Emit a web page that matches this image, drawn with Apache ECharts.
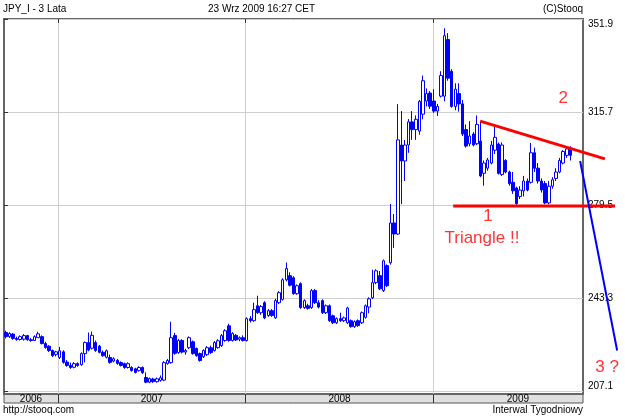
<!DOCTYPE html>
<html>
<head>
<meta charset="utf-8">
<script src="https://cdn.jsdelivr.net/npm/echarts@6/dist/echarts.min.js"></script>
<style>
  html, body { margin: 0; padding: 0; background: #fff; }
  #chart { width: 625px; height: 417px; }
</style>
</head>
<body>
<div id="chart"></div>
<script>
// weekly candles JPY_I, 3 years, weeks starting 2006-09-18
const opens = [
  230.1, 228.5, 229.5, 227.8, 227.4, 227.5, 228.9, 227.3, 227.0, 228.1,
  228.5, 225.8, 224.8, 223.1, 221.5, 220.4, 222.6, 218.6, 217.3, 216.6,
  218.0, 217.6, 221.9, 226.2, 224.0, 226.2, 224.8, 222.4, 220.5, 220.4,
  219.0, 219.3, 218.4, 218.0, 216.5, 216.5, 216.0, 215.3, 216.5, 212.6,
  210.8, 212.0, 211.0, 211.5, 211.6, 218.0, 218.4, 228.9, 222.3, 227.0,
  222.5, 224.2, 226.5, 223.9, 221.9, 220.7, 221.5, 224.2, 223.1, 224.2,
  225.0, 227.0, 232.7, 227.0, 229.0, 227.5, 228.1, 227.0, 235.5, 234.7,
  240.5, 237.8, 241.7, 236.7, 238.6, 235.8, 241.7, 243.0, 250.6, 252.2,
  251.4, 245.2, 249.1, 239.8, 240.5, 239.8, 246.4, 241.7, 242.5, 237.8,
  240.5, 236.6, 233.9, 235.5, 234.7, 233.9, 234.7, 232.4, 234.7, 233.9,
  236.0, 240.0, 243.6, 249.5, 252.2, 246.4, 256.1, 257.2, 272.7, 268.4,
  303.0, 296.8, 303.0, 312.0, 309.0, 308.4, 315.0, 320.1, 323.2, 320.1,
  316.2, 322.0, 322.0, 344.0, 331.7, 318.0, 323.0, 319.0, 309.0, 303.5,
  307.3, 303.5, 304.5, 292.0, 294.0, 296.0, 301.0, 303.4, 291.5, 297.0,
  292.5, 288.5, 286.3, 283.0, 285.2, 289.0, 288.5, 300.0, 294.0, 289.0,
  288.0, 280.5, 287.0, 290.0, 292.5, 296.0, 299.0, 301.5
];
const closes = [
  228.5, 229.7, 227.8, 227.4, 228.5, 228.9, 227.3, 227.0, 228.5, 229.6,
  225.8, 224.3, 223.1, 221.1, 222.6, 223.0, 218.5, 217.3, 216.5, 218.0,
  217.3, 221.9, 226.2, 223.3, 229.0, 223.1, 222.4, 221.1, 223.0, 218.5,
  219.9, 218.1, 217.3, 216.5, 218.0, 215.3, 214.6, 216.5, 214.5, 210.8,
  212.2, 211.0, 212.1, 212.5, 218.4, 219.2, 228.1, 222.0, 227.0, 222.5,
  223.1, 228.1, 221.9, 221.1, 219.2, 223.1, 224.2, 222.3, 226.2, 226.9,
  228.9, 230.8, 227.0, 229.7, 227.2, 228.1, 227.0, 235.5, 234.7, 239.0,
  237.8, 240.2, 235.8, 238.6, 236.7, 242.5, 245.6, 250.6, 255.0, 248.5,
  245.2, 248.3, 239.8, 242.5, 239.5, 246.4, 241.7, 240.0, 237.8, 240.5,
  234.7, 233.9, 235.5, 234.7, 235.8, 239.6, 232.4, 234.3, 232.8, 237.8,
  240.5, 243.2, 249.5, 254.1, 247.1, 258.0, 248.3, 272.7, 268.4, 305.0,
  296.8, 303.0, 312.0, 309.0, 313.0, 320.0, 328.0, 323.0, 318.1, 316.2,
  318.0, 330.0, 345.5, 329.0, 318.0, 324.7, 319.0, 307.3, 302.6, 306.5,
  303.0, 311.0, 291.0, 296.0, 297.2, 303.0, 306.0, 292.0, 303.0, 292.5,
  288.0, 285.2, 280.2, 285.5, 289.0, 285.5, 300.0, 294.0, 289.0, 285.5,
  280.5, 287.0, 289.5, 292.5, 297.0, 300.5, 301.5, 299.0
];
const lows = [
  227.8, 228.0, 227.3, 226.9, 227.0, 227.0, 226.9, 226.5, 226.8, 228.0,
  225.5, 223.8, 222.5, 220.6, 220.8, 219.8, 218.0, 216.8, 216.0, 216.2,
  216.8, 217.2, 218.5, 222.8, 223.5, 222.6, 222.0, 220.7, 220.0, 218.0,
  218.5, 217.6, 216.9, 216.0, 216.1, 214.9, 214.2, 214.9, 214.0, 210.4,
  210.4, 210.5, 210.6, 211.0, 211.2, 217.6, 218.0, 221.5, 221.8, 222.0,
  221.5, 223.7, 221.5, 220.7, 218.8, 220.2, 221.0, 221.8, 222.7, 223.8,
  224.5, 226.5, 226.5, 226.6, 226.8, 226.7, 226.6, 226.6, 234.0, 234.3,
  237.4, 237.0, 235.3, 236.2, 236.2, 235.4, 241.2, 242.5, 250.0, 248.0,
  244.8, 244.8, 239.3, 239.3, 239.0, 239.3, 241.2, 239.5, 237.3, 237.3,
  234.2, 233.4, 233.4, 234.2, 234.2, 233.4, 232.0, 231.9, 232.3, 233.4,
  235.5, 237.6, 243.1, 248.9, 246.6, 245.9, 247.8, 256.5, 263.0, 268.0,
  280.0, 289.0, 300.0, 305.0, 305.0, 307.0, 313.0, 318.0, 317.0, 315.5,
  314.3, 321.5, 320.0, 328.0, 317.5, 316.5, 316.0, 306.5, 302.0, 302.5,
  302.5, 303.0, 290.5, 287.2, 293.0, 295.5, 299.5, 291.5, 291.0, 292.0,
  287.2, 284.0, 279.8, 282.0, 283.0, 285.0, 288.0, 292.5, 288.0, 284.5,
  280.0, 280.0, 286.0, 289.0, 292.0, 295.5, 298.0, 297.0
];
const highs = [
  230.8, 230.2, 229.9, 228.5, 229.0, 229.5, 229.2, 228.0, 229.0, 230.4,
  229.0, 226.5, 225.2, 223.5, 223.0, 224.5, 223.2, 219.4, 218.4, 218.6,
  218.5, 222.4, 226.6, 230.1, 230.5, 227.0, 225.3, 223.1, 223.5, 221.5,
  220.5, 219.8, 218.9, 218.4, 218.5, 217.0, 216.4, 217.0, 216.9, 214.6,
  212.6, 212.5, 212.6, 213.4, 219.0, 219.8, 234.3, 230.0, 227.6, 227.5,
  223.8, 228.6, 227.0, 224.3, 222.3, 223.6, 224.8, 225.0, 226.8, 227.5,
  229.5, 231.4, 233.5, 230.2, 229.5, 228.6, 229.0, 236.0, 236.5, 241.7,
  244.4, 240.8, 242.3, 239.2, 239.2, 243.2, 246.2, 251.2, 257.3, 253.5,
  252.0, 248.8, 249.6, 243.0, 241.3, 247.0, 247.0, 242.7, 243.0, 241.0,
  241.0, 237.1, 236.0, 237.8, 236.3, 240.1, 235.2, 234.8, 235.2, 238.3,
  241.0, 243.8, 254.5, 254.7, 254.0, 258.5, 256.6, 280.1, 276.2, 318.9,
  316.2, 305.0, 313.1, 316.2, 314.5, 320.5, 330.0, 325.0, 324.0, 324.7,
  319.0, 331.7, 348.4, 346.5, 332.5, 327.0, 327.0, 320.5, 311.0, 312.3,
  308.0, 314.5, 312.3, 297.0, 298.0, 304.6, 310.4, 304.0, 304.0, 297.5,
  293.0, 292.5, 286.8, 287.0, 291.0, 290.0, 303.8, 302.0, 296.0, 290.0,
  289.0, 289.0, 290.5, 294.0, 298.0, 301.0, 302.5, 302.5
];

// axis texts
const priceTicks = [207.1, 243.3, 279.5, 315.7, 351.9];
const yearNames = ['2006', '2007', '2008', '2009'];
const yearStarts = [15, 67.14, 119.43];          // in weeks from the first candle
const yearLabelPos = [7.5, 41.1, 93.3, 142.9];
const weekCount = 161;                            // plot spans 161 weekly slots

// hand-drawn annotations, [week, price]
const resistanceLine = [[132.4, 312.3], [167.1, 297.6]];
const supportLine = [[124.9, 279.3], [169.9, 279.3]];
const breakoutLine = [[160.2, 296.8], [170.5, 223.1]];
const noteLabels = [
  { name: '2', value: [155.5, 321.1] },
  { name: '1', value: [134.6, 275.4] },
  { name: 'Triangle !!', value: [132.9, 266.6] },
  { name: '3 ?', value: [167.7, 216.4] }
];

const weeks = [];
for (let i = 0; i < weekCount; i++) {
  const d = new Date(Date.UTC(2006, 8, 18) + i * 7 * 86400000);
  weeks.push(d.toISOString().slice(0, 10));
}
const candles = opens.map((o, i) => [o, closes[i], lows[i], highs[i]]);

const FONT = 'Liberation Sans';
const chart = echarts.init(document.getElementById('chart'));

const baseGraphic = [
  { type: 'rect', z: -10, shape: { x: 4, y: 394, width: 579, height: 9 },
    style: { fill: '#e0e0e0', stroke: '#555', lineWidth: 1 } },
  { type: 'text', left: 3, top: 4, style: { text: 'JPY_I - 3 Lata', fontSize: 10, fontFamily: FONT, fill: '#000' } },
  { type: 'text', left: 208, top: 4, style: { text: '23 Wrz 2009 16:27 CET', fontSize: 10, fontFamily: FONT, fill: '#000' } },
  { type: 'text', right: 42, top: 4, style: { text: '(C)Stooq', fontSize: 10, fontFamily: FONT, fill: '#000' } },
  { type: 'text', left: 3, top: 405, style: { text: 'http://stooq.com', fontSize: 10, fontFamily: FONT, fill: '#000' } },
  { type: 'text', right: 42, top: 405, style: { text: 'Interwal Tygodniowy', fontSize: 10, fontFamily: FONT, fill: '#000' } }
];

const option = {
  animation: false,
  backgroundColor: '#ffffff',
  grid: {
    left: 4, right: 42, top: 19, bottom: 23,
    show: true, borderColor: '#666', borderWidth: 2, backgroundColor: '#fff'
  },
  xAxis: [
    {
      type: 'category', data: weeks,
      axisLine: { show: false }, axisTick: { show: false },
      axisLabel: { show: false }, splitLine: { show: false }
    },
    {
      type: 'value', min: 0, max: weekCount, position: 'bottom',
      axisLine: { show: false },
      axisTick: { show: true, customValues: yearStarts, length: 9, lineStyle: { color: '#333' } },
      splitLine: { show: true, lineStyle: { color: '#cfcfcf', width: 1 } },
      axisLabel: {
        customValues: yearLabelPos,
        formatter: v => yearNames[yearLabelPos.indexOf(v)],
        margin: 0, fontSize: 10, lineHeight: 10, color: '#000', fontFamily: FONT
      }
    },
    {
      type: 'value', min: 0, max: weekCount, position: 'top',
      axisLine: { show: false },
      axisTick: { show: true, inside: true, customValues: yearStarts, length: 4, lineStyle: { color: '#333' } },
      axisLabel: { show: false }, splitLine: { show: false }
    }
  ],
  yAxis: {
    type: 'value', position: 'right', min: 206.2, max: 352, scale: true,
    axisLine: { show: false },
    axisTick: { show: true, customValues: priceTicks, length: 4, lineStyle: { color: '#333' } },
    splitLine: { show: true, lineStyle: { color: '#cfcfcf' } },
    axisLabel: {
      customValues: priceTicks,
      formatter: v => v.toFixed(1),
      margin: 5, fontSize: 10, color: '#000', fontFamily: FONT,
      verticalAlignMinLabel: 'bottom', verticalAlignMaxLabel: 'top'
    }
  },
  graphic: baseGraphic,
  series: [
    {
      name: 'JPY_I', type: 'candlestick', xAxisIndex: 0, yAxisIndex: 0,
      data: candles, barWidth: 3,
      itemStyle: { color: '#ffffff', color0: '#0000ff', borderColor: '#0000ff', borderColor0: '#0000ff', borderWidth: 1 }
    },
    {
      type: 'scatter', xAxisIndex: 1, data: noteLabels, clip: false, symbolSize: 0, z: 6,
      label: { show: true, position: 'inside', formatter: '{b}', color: '#ff0000', fontSize: 17, fontFamily: FONT }
    }
  ]
};
chart.setOption(option);

// trend lines run past the plot edge, so draw them from data coords after layout
const toPx = p => chart.convertToPixel({ xAxisIndex: 1, yAxisIndex: 0 }, p);
const trendLines = [
  [resistanceLine, '#ff0000', 3],
  [supportLine, '#ff0000', 3],
  [breakoutLine, '#0000ff', 2]
].map(([pts, color, width]) => {
  const a = toPx(pts[0]);
  const b = toPx(pts[1]);
  return {
    type: 'line', z: 50,
    shape: { x1: a[0], y1: a[1], x2: b[0], y2: b[1] },
    style: { stroke: color, lineWidth: width }
  };
});
chart.setOption({ graphic: baseGraphic.concat(trendLines) });
</script>
</body>
</html>
